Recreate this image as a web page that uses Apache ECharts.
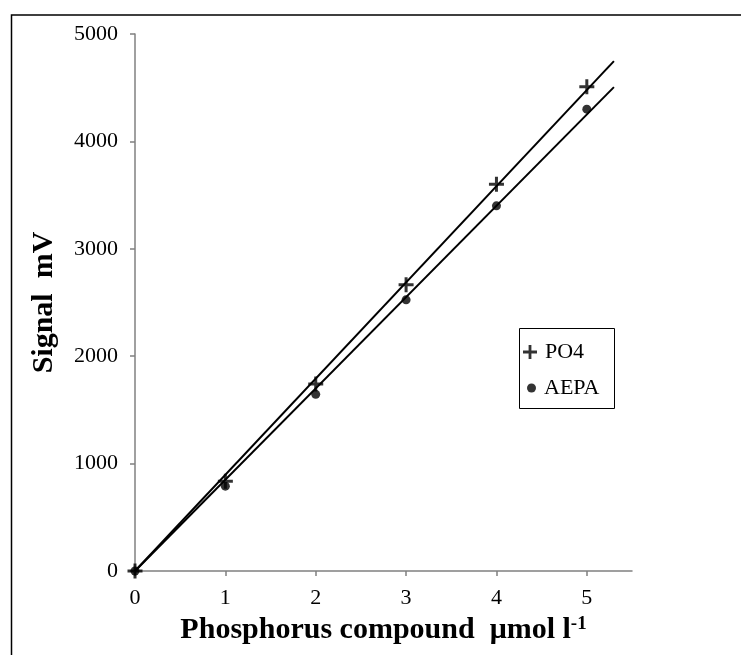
<!DOCTYPE html>
<html>
<head>
<meta charset="utf-8">
<script src="https://cdn.jsdelivr.net/npm/echarts@6/dist/echarts.min.js"></script>
<style>html,body{margin:0;padding:0;background:#fff;}#c{width:741px;height:655px;}</style>
</head>
<body>
<div id="c"></div>
<script>
const concentrations = [0, 1, 2, 3, 4, 5];
const po4Signal = [0, 835, 1740, 2665, 3600, 4510];
const aepaSignal = [0, 790, 1645, 2525, 3400, 4300];
const xTicks = [0, 1, 2, 3, 4, 5];
const yTicks = [0, 1000, 2000, 3000, 4000, 5000];
const trendEnd = 5.3;

const FONT = "'Liberation Serif', 'Times New Roman', serif";
const PLUS = 'path://M4,0h2v4h4v2h-4v4h-2v-4h-4v-2h4z';

function pairs(xs, ys) { return xs.map((x, i) => [x, ys[i]]); }
function slopeThroughOrigin(xs, ys) {
  let sxy = 0, sxx = 0;
  xs.forEach((x, i) => { sxy += x * ys[i]; sxx += x * x; });
  return sxy / sxx;
}
const po4Slope = slopeThroughOrigin(concentrations, po4Signal);
const aepaSlope = slopeThroughOrigin(concentrations, aepaSignal);

const chart = echarts.init(document.getElementById('c'), null, {renderer: 'canvas'});
chart.setOption({
  animation: false,
  backgroundColor: '#fff',
  grid: {left: 135, right: 109, top: 34, bottom: 84, containLabel: false},
  graphic: [
    {type: 'rect', left: 9, top: 12.5, shape: {width: 800, height: 700},
     style: {fill: 'none', stroke: '#000', lineWidth: 1.5}, silent: true},
    {type: 'rect', left: 519, top: 328, shape: {width: 95, height: 80},
     style: {fill: '#fff', stroke: '#000', lineWidth: 1}, z: 4, silent: true}
  ],
  legend: [
    {data: [{name: 'PO4', icon: PLUS}], left: 523, top: 341, itemWidth: 14, itemHeight: 14,
     padding: 0, z: 10, textStyle: {fontFamily: FONT, fontSize: 22, color: '#000', padding: [0,0,0,3]}},
    {data: [{name: 'AEPA', icon: 'circle'}], left: 527, top: 377, itemWidth: 9, itemHeight: 9,
     padding: 0, z: 10, textStyle: {fontFamily: FONT, fontSize: 22, color: '#000', padding: [0,0,0,3]}}
  ],
  xAxis: {
    type: 'value', min: 0, max: 5.5, interval: 1,
    name: 'Phosphorus compound  \u03bcmol l{sup|-1}',
    nameLocation: 'middle', nameGap: 44,
    nameTextStyle: {fontFamily: FONT, fontSize: 30, fontWeight: 'bold', color: '#000',
      rich: {sup: {fontFamily: FONT, fontSize: 19, fontWeight: 'bold', color: '#000', verticalAlign: 'top', padding: [0,0,10,0]}}},
    axisLine: {lineStyle: {color: '#808080', width: 1.5}},
    axisTick: {show: true, inside: false, length: 5, lineStyle: {color: '#808080', width: 1.5}, customValues: xTicks},
    axisLabel: {fontFamily: FONT, fontSize: 22, color: '#000', margin: 16, customValues: xTicks,
      formatter: v => String(v)},
    splitLine: {show: false}
  },
  yAxis: {
    type: 'value', min: 0, max: 5000, interval: 1000,
    name: 'Signal  mV', nameLocation: 'middle', nameRotate: 90, nameGap: 76,
    nameTextStyle: {fontFamily: FONT, fontSize: 30, fontWeight: 'bold', color: '#000'},
    axisLine: {show: true, lineStyle: {color: '#808080', width: 1.5}},
    axisTick: {show: true, inside: false, length: 5, lineStyle: {color: '#808080', width: 1.5}, customValues: yTicks},
    axisLabel: {fontFamily: FONT, fontSize: 22, color: '#000', margin: 17, customValues: yTicks,
      formatter: v => String(v)},
    splitLine: {show: false}
  },
  series: [
    {name: 'PO4 trend', type: 'line', data: [[0, 0], [trendEnd, trendEnd * po4Slope]],
     showSymbol: false, lineStyle: {color: '#000', width: 2}, z: 2, silent: true},
    {name: 'AEPA trend', type: 'line', data: [[0, 0], [trendEnd, trendEnd * aepaSlope]],
     showSymbol: false, lineStyle: {color: '#000', width: 2}, z: 2, silent: true},
    {name: 'PO4', type: 'scatter', data: pairs(concentrations, po4Signal), symbol: PLUS,
     symbolSize: 15, itemStyle: {color: '#000'}, z: 3},
    {name: 'AEPA', type: 'scatter', data: pairs(concentrations, aepaSignal), symbol: 'circle',
     symbolSize: 9, itemStyle: {color: '#000'}, z: 3}
  ]
});
</script>
</body>
</html>
